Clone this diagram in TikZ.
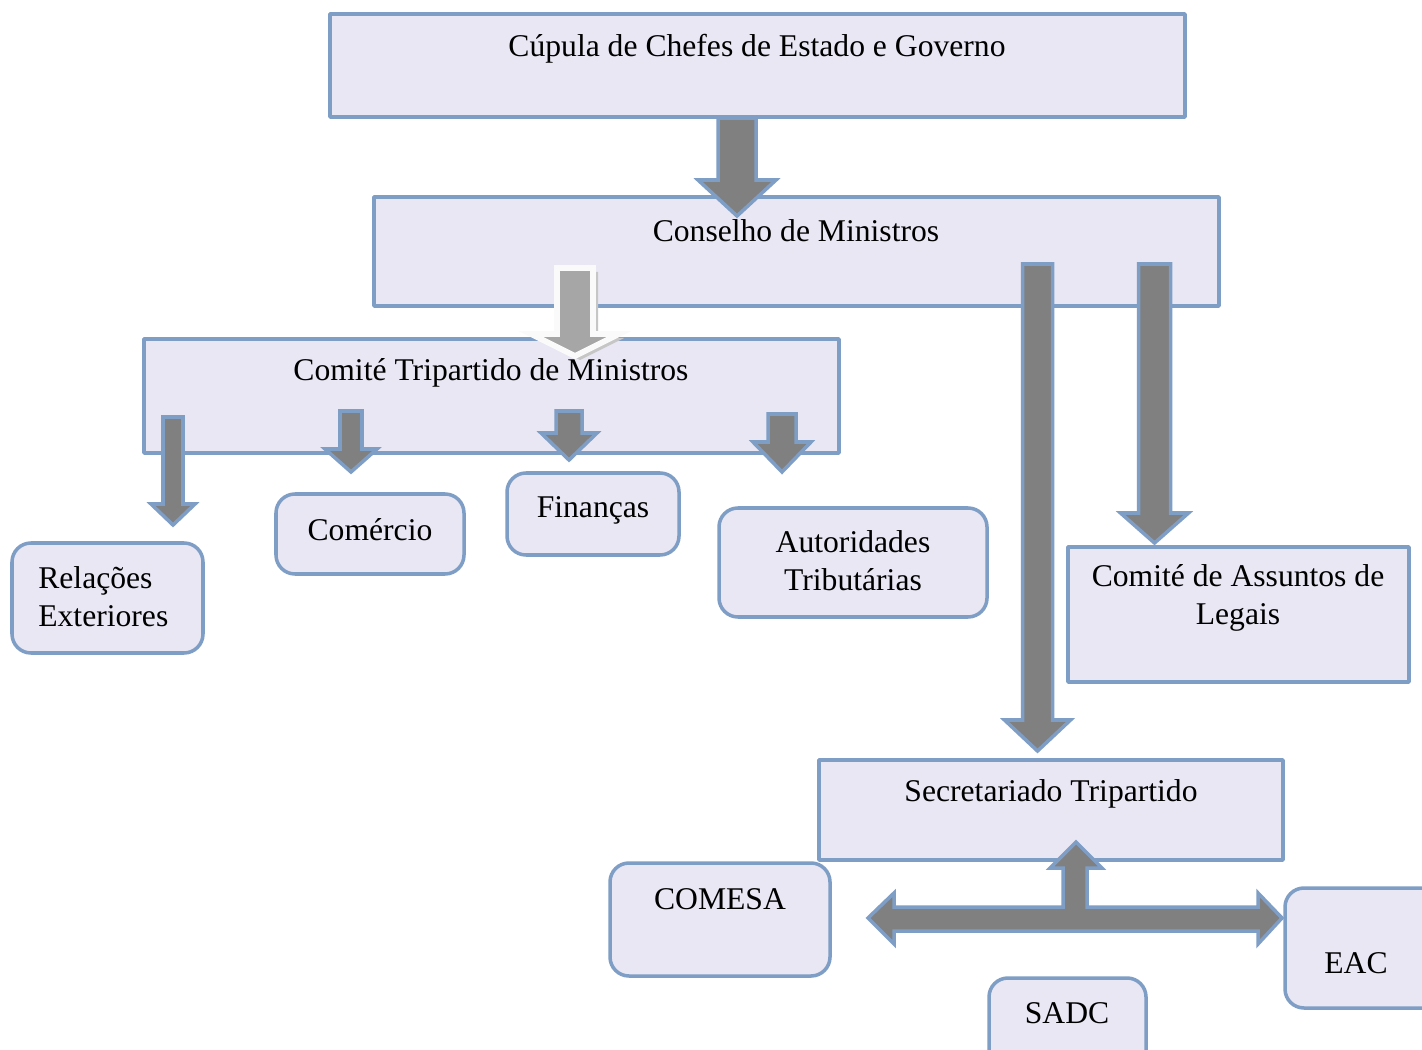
\documentclass[tikz,border=0pt]{standalone}
\usepackage{fontspec}
\setmainfont{Liberation Serif}
\usetikzlibrary{fit}
\definecolor{caixafundo}{HTML}{E9E7F3}
\definecolor{caixaborda}{HTML}{7F9EC6}
\definecolor{setacinza}{HTML}{808080}
\definecolor{setaclara}{HTML}{A6A6A6}
\tikzset{
  caixa/.style={draw=caixaborda, fill=caixafundo, line width=2pt, inner sep=0pt},
  caixaredonda/.style={caixa, rounded corners=0.38cm},
  seta/.style={draw=caixaborda, fill=setacinza, line width=2pt, line join=miter},
  rotulo/.style={align=center, inner sep=0pt}
}
% vertical block arrow: [style] {x} {top} {tip} {half shaft} {half head} {head length}
\newcommand{\seta}[7][]{%
  \draw[seta,#1] (#2-#5,#3) -- (#2+#5,#3) -- (#2+#5,#4-#7) -- (#2+#6,#4-#7)
    -- (#2,#4) -- (#2-#6,#4-#7) -- (#2-#5,#4-#7) -- cycle;}
\begin{document}
\begin{tikzpicture}[x=0.02cm, y=-0.02cm, font=\fontsize{18}{21.5}\selectfont, line join=round]
  \clip (0,0) rectangle (1422,1050);
  \fill[white] (0,0) rectangle (1422,1050);
  % boxes
  \node[caixa, fit={(330,14) (1185,117)}] (cupula) {};
  \node[caixa, fit={(374,197) (1219,306)}] (conselho) {};
  \node[caixa, fit={(144,339) (839,453)}] (tripartido) {};
  \node[caixaredonda, fit={(12,543) (203,653)}] (relacoes) {};
  \node[caixaredonda, fit={(276,494) (464,574)}] (comercio) {};
  \node[caixaredonda, fit={(507,473) (679,555)}] (financas) {};
  \node[caixaredonda, fit={(719,508) (987,617)}] (autoridades) {};
  \node[caixa, fit={(1068,547) (1409,682)}] (legais) {};
  \node[caixa, fit={(819,760) (1283,860)}] (secretariado) {};
  \node[caixaredonda, fit={(610,863) (830,976)}] (comesa) {};
  \node[caixaredonda, fit={(1285,888) (1445,1008)}] (eac) {};
  \node[caixaredonda, fit={(989,978) (1146,1075)}] (sadc) {};
  % arrows
  \seta{737}{118}{216}{19}{39}{36}
  \fill[gray!45] (580,272) -- (598,272) -- (598,338) -- (624,338) -- (580,360) -- (536,338) -- (562,338) -- cycle;
  \seta[draw=white!96!gray, fill=setaclara, line width=3.2pt]{575}{268}{356}{18}{44}{22}
  \seta{173}{417}{525}{10}{22}{21}
  \seta{351}{411}{472}{11}{26}{23}
  \seta{569}{411}{460}{13}{28}{27}
  \seta{782}{414}{472}{14}{29}{30}
  \seta{1037.5}{264}{751}{15}{33}{31}
  \seta{1154.5}{264}{543}{16}{34}{30}
  \draw[seta] (868,918) -- (894,893) -- (894,907) -- (1063,907) -- (1063,868) -- (1050,868)
    -- (1076,842) -- (1102,868) -- (1087,868) -- (1087,907) -- (1258,907) -- (1258,893)
    -- (1282,918) -- (1258,944) -- (1258,931) -- (894,931) -- (894,944) -- cycle;
  % labels
  \node[rotulo] (cupula-t) at (757,49) {Cúpula de Chefes de Estado e Governo};
  \node[rotulo] (conselho-t) at (796,231) {Conselho de Ministros};
  \node[rotulo] (tripartido-t) at (491,373) {Comité Tripartido de Ministros};
  \node[rotulo, align=left, anchor=west] (relacoes-t) at (38,597) {Relações\\Exteriores};
  \node[rotulo] (comercio-t) at (370,530) {Comércio};
  \node[rotulo] (financas-t) at (593,510) {Finanças};
  \node[rotulo] (autoridades-t) at (853,561) {Autoridades\\Tributárias};
  \node[rotulo] (legais-t) at (1238,598) {Comité de Assuntos de\\Legais};
  \node[rotulo] (secretariado-t) at (1051,794) {Secretariado Tripartido};
  \node[rotulo] (comesa-t) at (720,899) {COMESA};
  \node[rotulo] (eac-t) at (1356,963) {EAC};
  \node[rotulo] (sadc-t) at (1067,1013) {SADC};
\end{tikzpicture}
\end{document}
